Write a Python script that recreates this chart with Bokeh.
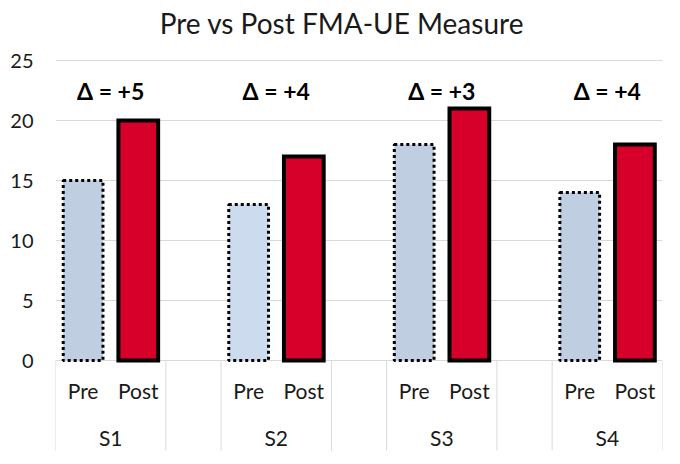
from bokeh.plotting import figure
from bokeh.models import Range1d, FixedTicker, ColumnDataSource
from bokeh.core.properties import value
from bokeh.embed import file_html
from bokeh.resources import INLINE

title_text = "Pre vs Post FMA-UE Measure"
subjects = ["S1", "S2", "S3", "S4"]
phases = ["Pre", "Post"]
pre_values = [15, 13, 18, 14]
post_values = [20, 17, 21, 18]
pre_colors = ["#BFCFE1", "#CCDCEE", "#BFCFE1", "#BFCFE1"]
post_color = "#D6002A"
y_ticks = [0, 5, 10, 15, 20, 25]

FONT = value("Lato")
n = len(subjects)
slots = 3 * n - 1  # Pre, Post, gap per subject (no gap after last)

pre_x = [3 * i + 0.5 for i in range(n)]
post_x = [3 * i + 1.5 for i in range(n)]
group_x = [3 * i + 1.0 for i in range(n)]

p = figure(width=672, height=456, output_backend="svg", toolbar_location=None,
           x_range=Range1d(0, slots), y_range=Range1d(-8.0, 30.0),
           min_border_left=55, min_border_right=10, min_border_top=0,
           min_border_bottom=0)
p.title.visible = False

p.outline_line_color = None
p.xaxis.visible = False
p.xgrid.visible = False
p.ygrid.ticker = FixedTicker(ticks=y_ticks)
p.ygrid.grid_line_color = "#D9D9D9"
p.ygrid.grid_line_width = 1
p.yaxis.ticker = FixedTicker(ticks=y_ticks)
p.yaxis.axis_line_color = None
p.yaxis.major_tick_line_color = None
p.yaxis.minor_tick_line_color = None
p.yaxis.major_tick_out = 0
p.yaxis.major_label_standoff = 22
p.yaxis.major_label_text_font = "Lato"
p.yaxis.major_label_text_font_size = "20px"
p.yaxis.major_label_text_color = "#1a1a1a"

# category separators under the axis
bounds = []
for i in range(n):
    bounds += [3 * i, 3 * i + 2]
p.segment(x0=bounds, y0=[0] * len(bounds), x1=bounds, y1=[-7.5] * len(bounds),
          line_color="#D9D9D9", line_width=1)

# bars
pre_src = ColumnDataSource(dict(x=pre_x, top=pre_values, color=pre_colors))
p.vbar(x="x", top="top", bottom=0, width=0.72, source=pre_src,
       fill_color="color", line_color="black", line_width=3, line_dash="3 3")
post_src = ColumnDataSource(dict(x=post_x, top=post_values))
p.vbar(x="x", top="top", bottom=0, width=0.72, source=post_src,
       fill_color=post_color, line_color="black", line_width=4, line_join="miter")

# labels
p.text(x=pre_x + post_x, y=[-2.5] * (2 * n),
       text=[phases[0]] * n + [phases[1]] * n,
       text_align="center", text_baseline="middle",
       text_font=FONT, text_font_size="21px", text_color="#1a1a1a")
p.text(x=group_x, y=[-6.4] * n, text=subjects,
       text_align="center", text_baseline="middle",
       text_font=FONT, text_font_size="21px", text_color="#1a1a1a")

deltas = ["\u0394 = +%d" % (b - a) for a, b in zip(pre_values, post_values)]
p.text(x=group_x, y=[22.5] * n, text=deltas,
       text_align="center", text_baseline="middle",
       text_font=FONT, text_font_size="23px", text_font_style="bold",
       text_color="black")

# chart title
p.text(x=[5.19], y=[28.1], text=[title_text],
       text_align="center", text_baseline="alphabetic",
       text_font=FONT, text_font_size="28px", text_color="#1a1a1a")

open("out.html", "w").write(file_html(p, INLINE))
